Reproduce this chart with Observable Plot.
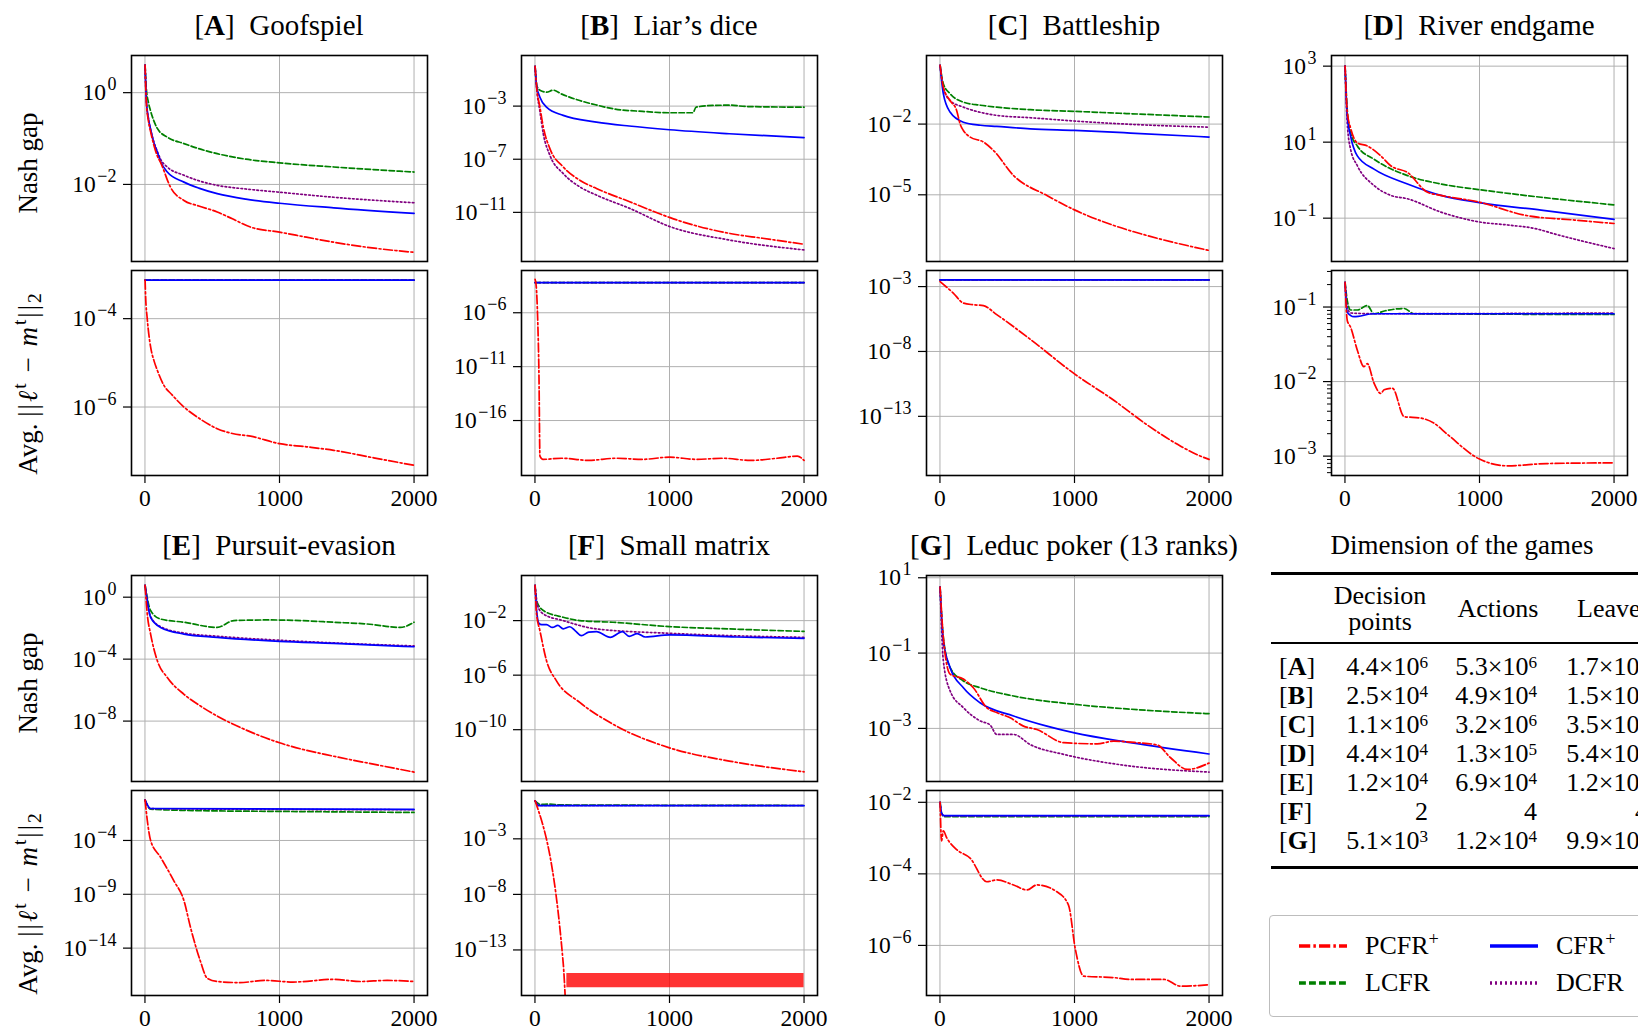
<!DOCTYPE html>
<html><head><meta charset="utf-8">
<script src="https://cdn.jsdelivr.net/npm/d3@7"></script>
<script src="https://cdn.jsdelivr.net/npm/@observablehq/plot@0.6"></script>
<style>
body{margin:0;background:#fff;}
#root{position:relative;width:1638px;height:1032px;overflow:hidden;font-family:"Liberation Serif","Times New Roman",serif;color:#000;background:#fff;}
.abs{position:absolute;white-space:pre;line-height:1;}
.title{font-size:29px;transform:translate(-50%,-50%);}
.ylab{font-size:27px;transform:translate(-50%,-50%) rotate(-90deg);}
.ylab .m{letter-spacing:2px;}
.ylab sup{font-size:0.72em;vertical-align:0.55em;line-height:0;}
.ylab sub{font-size:0.72em;vertical-align:-0.25em;line-height:0;}
.tcell{font-size:26px;line-height:22px;transform:translateY(-50%);}
.tcell sup{font-size:0.66em;vertical-align:0.42em;line-height:0;}
.leg sup{font-size:0.7em;vertical-align:0.5em;line-height:0;}
.leg{font-size:26px;transform:translateY(-50%);}
.rule{position:absolute;background:#000;}
</style></head><body><div id="root"></div>
<script>
// ---------- axis settings ----------
const iterDomain = [-100, 2100];
const xTicks = [0, 1000, 2000];
const games = ["A","B","C","D","E","F","G"];
const gameNames = ["Goofspiel","Liar’s dice","Battleship","River endgame","Pursuit-evasion","Small matrix","Leduc poker (13 ranks)"];
const gapRanges = {A:[-3.68,0.81],B:[-14.7,0.81],C:[-7.83,0.91],D:[-2.14,3.28],E:[-11.9,1.4],F:[-13.8,1.31],G:[-4.41,1.06]};
const avgRanges = {A:[-7.55,-2.91],B:[-21.1,-2.08],C:[-17.56,-1.76],D:[-3.26,-0.51],E:[-18.4,0.64],F:[-17.1,1.35],G:[-7.4,-1.67]};
const gapTicks = {A:[0,-2],B:[-3,-7,-11],C:[-2,-5],D:[3,1,-1],E:[0,-4,-8],F:[-2,-6,-10],G:[1,-1,-3]};
const avgTicks = {A:[-4,-6],B:[-6,-11,-16],C:[-3,-8,-13],D:[-1,-2,-3],E:[-4,-9,-14],F:[-3,-8,-13],G:[-2,-4,-6]};

// ---------- series: [iteration, log10(value)] ----------
const gapA = {
  LCFR:[[1,0.6],[10,0.1],[25,-0.2],[42,-0.4],[67,-0.62],[92,-0.78],[166,-0.97],[290,-1.11],[400,-1.22],[537,-1.33],[750,-1.45],[1000,-1.53],[1403,-1.62],[2000,-1.73]],
  DCFR:[[1,0.6],[10,-0.15],[25,-0.55],[42,-0.8],[67,-1.08],[92,-1.28],[116,-1.45],[166,-1.62],[290,-1.8],[400,-1.92],[537,-2.02],[750,-2.1],[1000,-2.17],[1403,-2.28],[2000,-2.4]],
  CFR:[[1,0.6],[10,-0.15],[25,-0.55],[42,-0.8],[67,-1.1],[92,-1.3],[116,-1.5],[166,-1.73],[290,-1.95],[400,-2.08],[537,-2.2],[750,-2.32],[1000,-2.41],[1403,-2.51],[2000,-2.63]],
  PCFR:[[1,0.6],[10,-0.2],[25,-0.6],[42,-0.85],[67,-1.15],[92,-1.38],[116,-1.52],[141,-1.7],[166,-1.9],[190,-2.06],[290,-2.35],[400,-2.47],[537,-2.6],[650,-2.75],[785,-2.93],[1000,-3.04],[1200,-3.15],[1403,-3.26],[1651,-3.37],[2000,-3.48]]
};
const avgA = {
  LCFR:[[1,-3.13],[2000,-3.13]], DCFR:[[1,-3.13],[2000,-3.13]], CFR:[[1,-3.13],[2000,-3.13]],
  PCFR:[[1,-3.13],[5,-3.5],[17,-4.0],[42,-4.64],[67,-4.95],[92,-5.17],[141,-5.51],[200,-5.72],[290,-6.0],[400,-6.25],[537,-6.49],[650,-6.6],[785,-6.66],[1000,-6.83],[1200,-6.9],[1403,-6.98],[1700,-7.15],[2000,-7.32]]
};
const gapB = {
  LCFR:[[1,0.0],[8,-1.0],[15,-1.5],[37,-1.8],[86,-1.95],[136,-1.8],[200,-2.1],[333,-2.58],[450,-2.9],[580,-3.2],[800,-3.4],[1000,-3.5],[1173,-3.5],[1198,-3.08],[1321,-2.95],[1450,-2.93],[1568,-3.03],[2000,-3.08]],
  DCFR:[[1,0.0],[12,-1.6],[37,-3.4],[62,-5.08],[111,-6.7],[210,-8.08],[333,-9.08],[457,-9.7],[704,-10.7],[1005,-12.08],[1444,-13.08],[2000,-13.83]],
  CFR:[[1,0.0],[12,-1.45],[37,-2.33],[86,-3.08],[210,-3.7],[457,-4.2],[700,-4.5],[1000,-4.78],[1444,-5.08],[2000,-5.38]],
  PCFR:[[1,0.0],[12,-1.5],[37,-3.08],[62,-4.58],[111,-6.2],[210,-7.58],[333,-8.58],[457,-9.2],[704,-10.2],[951,-11.2],[1005,-11.4],[1444,-12.58],[1691,-12.95],[2000,-13.4]]
};
const avgB = {
  LCFR:[[1,-3.2],[2000,-3.2]], DCFR:[[1,-3.2],[2000,-3.2]], CFR:[[1,-3.2],[2000,-3.2]],
  PCFR:[[1,-2.9],[10,-3.6],[20,-6.5],[30,-12],[37,-19.3],[60,-19.6],[200,-19.5],[400,-19.7],[600,-19.5],[800,-19.6],[1000,-19.4],[1200,-19.6],[1400,-19.5],[1600,-19.7],[1800,-19.5],[1950,-19.3],[2000,-19.7]]
};
const gapC = {
  LCFR:[[1,0.49],[25,-0.29],[75,-0.71],[174,-1.07],[300,-1.2],[422,-1.28],[671,-1.39],[1000,-1.46],[1416,-1.56],[2000,-1.7]],
  DCFR:[[1,0.49],[25,-0.45],[75,-1.0],[174,-1.28],[300,-1.5],[422,-1.63],[671,-1.73],[1000,-1.87],[1416,-2.01],[2000,-2.13]],
  CFR:[[1,0.49],[25,-0.71],[75,-1.49],[174,-1.92],[300,-2.05],[422,-2.1],[671,-2.2],[1000,-2.27],[1416,-2.38],[2000,-2.55]],
  PCFR:[[1,0.49],[25,-0.43],[75,-1.0],[124,-1.42],[150,-2.0],[174,-2.27],[224,-2.55],[323,-2.76],[398,-3.12],[547,-4.18],[795,-5.03],[1000,-5.64],[1292,-6.3],[1540,-6.73],[2000,-7.36]]
};
const avgC = {
  LCFR:[[1,-2.49],[2000,-2.49]], DCFR:[[1,-2.49],[2000,-2.49]], CFR:[[1,-2.49],[2000,-2.49]],
  PCFR:[[1,-2.62],[50,-3.05],[99,-3.5],[174,-4.27],[248,-4.4],[323,-4.47],[422,-5.16],[671,-7.06],[1000,-9.73],[1292,-11.76],[1540,-13.66],[1789,-15.3],[1900,-15.9],[2000,-16.32]]
};
const gapD = {
  LCFR:[[1,3.0],[17,1.85],[42,1.24],[92,0.9],[216,0.55],[465,0.12],[713,-0.1],[1000,-0.25],[1458,-0.45],[2000,-0.65]],
  DCFR:[[1,3.0],[17,1.5],[42,0.81],[92,0.38],[216,-0.14],[340,-0.4],[465,-0.49],[713,-0.84],[1000,-1.1],[1210,-1.18],[1408,-1.27],[1583,-1.44],[2000,-1.8]],
  CFR:[[1,3.0],[17,1.7],[42,1.16],[92,0.64],[216,0.29],[465,-0.1],[713,-0.4],[1000,-0.59],[1458,-0.79],[2000,-1.03]],
  PCFR:[[1,3.0],[17,1.8],[42,1.37],[92,0.98],[166,0.9],[266,0.64],[340,0.38],[465,0.2],[614,-0.32],[713,-0.4],[1000,-0.58],[1334,-0.92],[1707,-1.05],[2000,-1.14]]
};
const avgD = {
  LCFR:[[1,-0.67],[17,-0.91],[42,-1.04],[92,-1.04],[166,-0.98],[216,-1.09],[300,-1.05],[440,-1.02],[514,-1.09],[2000,-1.1]],
  DCFR:[[1,-0.67],[17,-1.0],[42,-1.08],[216,-1.09],[2000,-1.08]],
  CFR:[[1,-0.67],[17,-1.07],[67,-1.13],[216,-1.09],[2000,-1.09]],
  PCFR:[[1,-0.67],[17,-1.18],[42,-1.27],[92,-1.58],[141,-1.8],[166,-1.76],[216,-2.02],[266,-2.16],[291,-2.11],[353,-2.09],[440,-2.47],[564,-2.49],[663,-2.56],[763,-2.71],[1000,-3.04],[1210,-3.13],[1500,-3.1],[2000,-3.09]]
};
const gapE = {
  LCFR:[[1,0.76],[42,-0.86],[116,-1.41],[290,-1.62],[537,-1.95],[661,-1.51],[908,-1.47],[1156,-1.51],[1403,-1.62],[1651,-1.73],[1899,-1.95],[2000,-1.62]],
  DCFR:[[1,0.76],[42,-1.25],[116,-1.9],[290,-2.32],[537,-2.52],[1000,-2.78],[1403,-2.95],[2000,-3.15]],
  CFR:[[1,0.76],[42,-1.3],[116,-1.95],[290,-2.38],[537,-2.59],[1000,-2.85],[1403,-2.98],[2000,-3.2]],
  PCFR:[[1,0.76],[17,-1.08],[42,-2.38],[92,-4.1],[166,-5.19],[290,-6.27],[413,-7.03],[537,-7.68],[661,-8.22],[1000,-9.4],[1403,-10.27],[1651,-10.7],[2000,-11.29]]
};
const avgE = {
  LCFR:[[1,-0.25],[42,-1.1],[500,-1.25],[1000,-1.3],[2000,-1.4]],
  DCFR:[[1,-0.25],[42,-1.05],[2000,-1.15]],
  CFR:[[1,-0.25],[42,-1.03],[2000,-1.12]],
  PCFR:[[1,-0.25],[17,-2.1],[42,-4.0],[116,-5.56],[215,-7.75],[290,-9.6],[339,-12.1],[413,-15.25],[463,-16.8],[537,-17.1],[700,-17.2],[900,-17.0],[1100,-17.15],[1400,-16.9],[1600,-17.1],[1800,-17.0],[2000,-17.1]]
};
const gapF = {
  LCFR:[[1,0.58],[12,-0.53],[62,-1.26],[210,-1.75],[333,-2.0],[580,-2.12],[1000,-2.44],[1444,-2.61],[2000,-2.79]],
  DCFR:[[1,0.58],[20,-0.9],[62,-1.51],[210,-2.0],[457,-2.61],[1000,-2.93],[2000,-3.23]],
  CFR:[[1,0.58],[12,-1.2],[30,-2.2],[50,-2.3],[86,-2.3],[130,-2.5],[170,-2.35],[210,-2.6],[259,-2.45],[300,-2.75],[345,-3.1],[400,-2.85],[457,-2.81],[560,-3.23],[650,-2.81],[700,-3.15],[760,-2.95],[820,-3.2],[1000,-3.05],[1500,-3.2],[2000,-3.3]],
  PCFR:[[1,0.58],[12,-1.51],[37,-2.74],[86,-4.94],[160,-6.42],[333,-8.0],[580,-9.6],[1000,-11.33],[1444,-12.3],[2000,-13.09]]
};
const avgF = {
  LCFR:[[1,0.42],[40,0.1],[100,0.12],[200,0.05],[2000,0.0]],
  DCFR:[[1,0.42],[30,0.0],[2000,0.0]],
  CFR:[[1,0.42],[30,-0.02],[2000,-0.02]],
  PCFR:[[1,0.42],[210,-14.2],[226,-17.5]]
};
// F: oscillating floor of PCFR+ after the drop: [iteration, low log10, high log10]
const avgF_PCFR_band = [[237,-16.4,-15.13],[2000,-16.4,-15.13]];
const gapG = {
  LCFR:[[1,0.75],[25,-0.58],[75,-1.38],[174,-1.74],[298,-1.92],[547,-2.14],[1000,-2.36],[1416,-2.49],[2000,-2.61]],
  DCFR:[[1,0.75],[25,-1.2],[75,-2.0],[174,-2.45],[298,-2.8],[373,-2.91],[422,-3.16],[547,-3.16],[671,-3.43],[920,-3.69],[1168,-3.87],[1416,-4.0],[2000,-4.16]],
  CFR:[[1,0.75],[25,-0.67],[75,-1.38],[174,-1.92],[298,-2.32],[547,-2.67],[795,-2.94],[1000,-3.12],[1416,-3.38],[2000,-3.68]],
  PCFR:[[1,0.75],[25,-0.58],[75,-1.56],[174,-1.69],[248,-1.92],[348,-2.45],[422,-2.58],[522,-2.72],[621,-2.94],[720,-3.03],[920,-3.38],[1168,-3.41],[1292,-3.34],[1466,-3.38],[1615,-3.44],[1714,-3.78],[1839,-4.09],[2000,-3.92]]
};
const avgG = {
  LCFR:[[1,-2.0],[12,-2.3],[30,-2.4],[2000,-2.4]],
  DCFR:[[1,-2.0],[12,-2.3],[30,-2.38],[2000,-2.38]],
  CFR:[[1,-2.0],[12,-2.3],[30,-2.37],[2000,-2.37]],
  PCFR:[[1,-2.0],[12,-3.08],[25,-2.8],[50,-2.99],[124,-3.32],[224,-3.56],[348,-4.22],[422,-4.17],[547,-4.31],[646,-4.45],[720,-4.31],[869,-4.5],[956,-4.88],[1006,-6.1],[1068,-6.86],[1292,-6.9],[1416,-6.95],[1665,-6.95],[1789,-7.14],[2000,-7.1]]
};
const gapSeries = {A:gapA,B:gapB,C:gapC,D:gapD,E:gapE,F:gapF,G:gapG};
const avgSeries = {A:avgA,B:avgB,C:avgC,D:avgD,E:avgE,F:avgF,G:avgG};

// ---------- algorithms ----------
const algos = ["LCFR","DCFR","CFR","PCFR"];
const algoColor = {PCFR:"#ff0000", CFR:"#0000ff", LCFR:"#008000", DCFR:"#800080"};
const algoDash = {PCFR:"9,2.5,2,2.5", CFR:null, LCFR:"5.5,2.5", DCFR:"1.6,2.4"};

// ---------- table ----------
const tableGames = ["A","B","C","D","E","F","G"];
const decisionPoints = ["4.4e6","2.5e4","1.1e6","4.4e4","1.2e4","2","5.1e3"];
const actionsCount = ["5.3e6","4.9e4","3.2e6","1.3e5","6.9e4","4","1.2e4"];
const leavesCount = ["1.7e6","1.5e5","3.5e6","5.4e7","1.2e5","4","9.9e4"];

// ---------- layout ----------
const colLeft = {A:131,B:521,C:926,D:1331,E:131,F:521,G:926};
const rowTop = {A:55,B:55,C:55,D:55,E:575,F:575,G:575};
const FW = 296;

const root = document.getElementById("root");
const SVGNS = "http://www.w3.org/2000/svg";

function makePlot(series, range, ticks, {left, top, h, xLabels, minor, band}) {
  const ML = 110, MR = 14, MT = 8, MB = xLabels ? 42 : 8;
  const grid = {stroke:"#b0b0b0", strokeOpacity:1, strokeWidth:1};
  const marks = [
    Plot.gridX(xTicks, grid),
    Plot.gridY(ticks.map(k => 10 ** k), grid)
  ];
  if (band) marks.push(Plot.areaY(band.map(([x, lo, hi]) => ({x, lo: 10 ** lo, hi: 10 ** hi})),
    {x:"x", y1:"lo", y2:"hi", fill:"#ff0000", fillOpacity:0.8, clip:true}));
  for (const a of algos) {
    if (!series[a]) continue;
    marks.push(Plot.line(series[a].map(([x, v]) => ({x, y: 10 ** v})),
      {x:"x", y:"y", stroke: algoColor[a], strokeWidth:1.7, strokeDasharray: algoDash[a], curve:"monotone-x", clip:true}));
  }
  marks.push(Plot.frame({stroke:"#000", strokeWidth:1.6}));
  marks.push(Plot.axisY(ticks.map(k => 10 ** k), {tickSize:8, tickPadding:7, fontSize:23.5, strokeWidth:1.2, label:null,
    tickFormat: d => "10^" + Math.round(Math.log10(d))}));
  if (minor) marks.push(Plot.axisY(minor, {tickSize:4, strokeWidth:1, label:null, tickFormat: () => ""}));
  if (xLabels) marks.push(Plot.axisX(xTicks, {tickSize:8, tickPadding:6, fontSize:23.5, strokeWidth:1.2, label:null, tickFormat: d => String(d)}));
  const svg = Plot.plot({
    width: ML + FW + MR, height: MT + h + MB,
    marginLeft: ML, marginRight: MR, marginTop: MT, marginBottom: MB,
    x: {domain: iterDomain, axis: null, label: null},
    y: {type: "log", domain: [10 ** range[0], 10 ** range[1]], axis: null, label: null},
    style: {background:"transparent", fontFamily:"'Liberation Serif', serif", fontSize:"23.5px", color:"#000", overflow:"visible"},
    marks
  });
  svg.querySelectorAll('[aria-label="y-axis tick label"] text').forEach(t => {
    const s = t.textContent;
    if (!s.includes("^")) return;
    const [b, e] = s.split("^");
    t.textContent = b;
    const ts = document.createElementNS(SVGNS, "tspan");
    ts.setAttribute("dy", "-10");
    ts.setAttribute("dx", "1.5");
    ts.setAttribute("font-size", "18");
    ts.textContent = e.replace("-", "\u2212");
    t.appendChild(ts);
  });
  svg.style.position = "absolute";
  svg.style.left = (left - ML) + "px";
  svg.style.top = (top - MT) + "px";
  root.appendChild(svg);
}

function addDiv(cls, html, css) {
  const d = document.createElement("div");
  d.className = "abs " + cls;
  d.innerHTML = html;
  Object.assign(d.style, css);
  root.appendChild(d);
  return d;
}

// minor ticks for the narrow log range of panel D (bottom)
function minorTicks(range) {
  const out = [];
  for (let k = Math.floor(range[0]) - 1; k <= Math.ceil(range[1]); k++)
    for (let m = 2; m <= 9; m++) { const v = m * 10 ** k; if (Math.log10(v) >= range[0] && Math.log10(v) <= range[1]) out.push(v); }
  return out;
}

games.forEach((g, i) => {
  const L = colLeft[g], T = rowTop[g];
  makePlot(gapSeries[g], gapRanges[g], gapTicks[g], {left: L, top: T, h: 206, xLabels: false});
  makePlot(avgSeries[g], avgRanges[g], avgTicks[g], {left: L, top: T + 215, h: 205, xLabels: true,
    minor: g === "D" ? minorTicks(avgRanges[g]) : null,
    band: g === "F" ? avgF_PCFR_band : null});
  addDiv("title", `[<b>${g}</b>]  ${gameNames[i]}`, {left: (L + FW / 2) + "px", top: (T - 30) + "px"});
});

// y-axis titles
for (const T of [55, 575]) {
  addDiv("ylab", "Nash gap", {left: "28px", top: (T + 108) + "px"});
  addDiv("ylab", "Avg. <span class=\"m\">||<i>ℓ</i><sup>t</sup> − <i>m</i><sup>t</sup>||<sub>2</sub></span>", {left: "28px", top: (T + 328) + "px"});
}

// ---------- table of dimensions ----------
const fmt = s => s.includes("e") ? `${s.split("e")[0]}×10<sup>${s.split("e")[1]}</sup>` : s;
addDiv("title", "Dimension of the games", {left: "1462px", top: "545px", fontSize: "27px"});
const rule = (top, h) => { const r = document.createElement("div"); r.className = "rule"; Object.assign(r.style, {left: "1271px", width: "420px", top: top + "px", height: h + "px"}); root.appendChild(r); };
rule(572, 3); rule(642, 1.6); rule(866, 3);
addDiv("tcell", "Decision", {left: "1380px", top: "596px", transform: "translate(-50%,-50%)"});
addDiv("tcell", "points", {left: "1380px", top: "622px", transform: "translate(-50%,-50%)"});
addDiv("tcell", "Actions", {left: "1498px", top: "609px", transform: "translate(-50%,-50%)"});
addDiv("tcell", "Leaves", {left: "1577px", top: "609px"});
tableGames.forEach((g, i) => {
  const y = 667 + 29 * i;
  addDiv("tcell", `[<b>${g}</b>]`, {left: "1279px", top: y + "px"});
  addDiv("tcell", fmt(decisionPoints[i]), {right: (1638 - 1428) + "px", top: y + "px"});
  addDiv("tcell", fmt(actionsCount[i]), {right: (1638 - 1537) + "px", top: y + "px"});
  addDiv("tcell", fmt(leavesCount[i]), {right: (1638 - 1648) + "px", top: y + "px"});
});

// ---------- legend ----------
const box = document.createElement("div");
Object.assign(box.style, {position: "absolute", left: "1269px", top: "915px", width: "440px", height: "100px", border: "1.5px solid #bdbdbd", borderRadius: "4px"});
root.appendChild(box);
const legendItems = [
  {a: "PCFR", label: "PCFR<sup>+</sup>", x: 1299, y: 946},
  {a: "LCFR", label: "LCFR", x: 1299, y: 983},
  {a: "CFR", label: "CFR<sup>+</sup>", x: 1490, y: 946},
  {a: "DCFR", label: "DCFR", x: 1490, y: 983}
];
for (const it of legendItems) {
  const s = document.createElementNS(SVGNS, "svg");
  s.setAttribute("width", 50); s.setAttribute("height", 8);
  Object.assign(s.style, {position: "absolute", left: it.x + "px", top: (it.y - 4) + "px"});
  const ln = document.createElementNS(SVGNS, "line");
  ln.setAttribute("x1", 0); ln.setAttribute("x2", 48); ln.setAttribute("y1", 4); ln.setAttribute("y2", 4);
  ln.setAttribute("stroke", algoColor[it.a]); ln.setAttribute("stroke-width", 3.4);
  if (algoDash[it.a]) ln.setAttribute("stroke-dasharray", algoDash[it.a].split(",").map(v => v * 1.25).join(","));
  s.appendChild(ln);
  root.appendChild(s);
  addDiv("leg", it.label, {left: (it.x + 66) + "px", top: it.y + "px"});
}
</script></body></html>
